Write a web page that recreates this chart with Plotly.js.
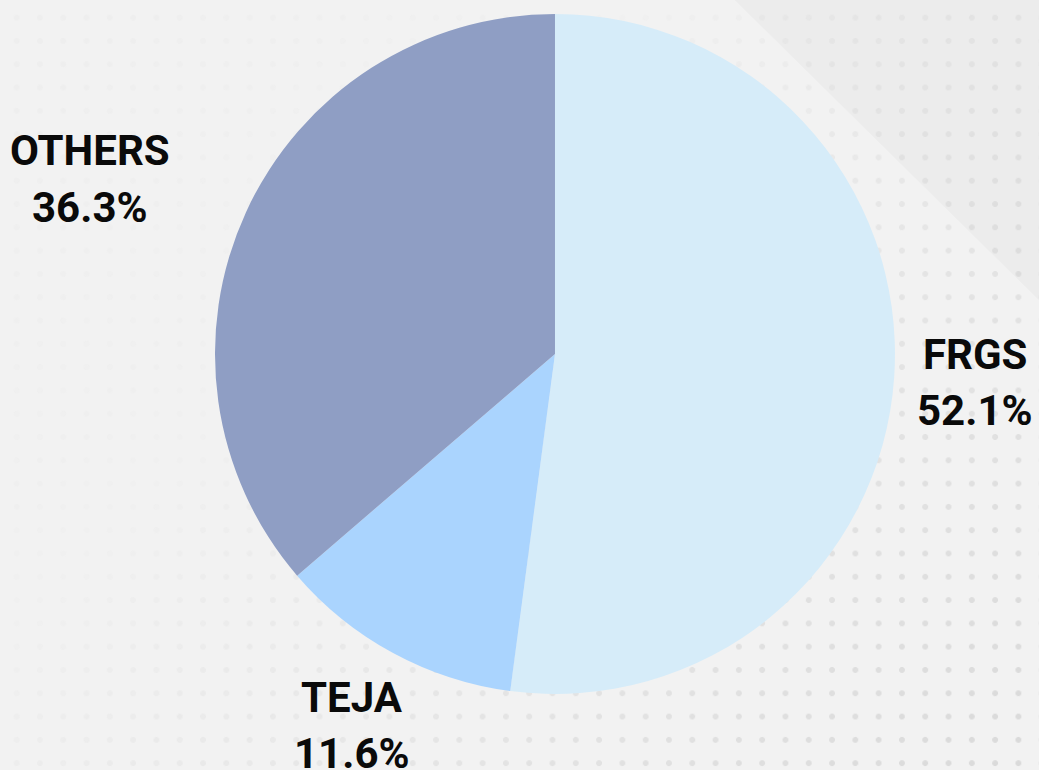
<!DOCTYPE html>
<html>
<head>
<meta charset="utf-8">
<script src="https://cdn.plot.ly/plotly-3.0.1.min.js"></script>
<style>
  html, body { margin: 0; padding: 0; background: #f2f2f2; }
  #wrap { position: relative; width: 1039px; height: 770px; overflow: hidden; background: #f2f2f2; }
  #dots { position: absolute; left: 0; top: 0; width: 1039px; height: 770px;
    background-image: radial-gradient(circle, #d9d9d9 2.6px, transparent 3.2px);
    background-size: 23.3px 23.3px; background-position: 5px 6px;
    -webkit-mask-image: linear-gradient(135deg, rgba(0,0,0,0.15) 0%, rgba(0,0,0,0.05) 35%, rgba(0,0,0,0.6) 70%, rgba(0,0,0,1) 100%);
    mask-image: linear-gradient(135deg, rgba(0,0,0,0.15) 0%, rgba(0,0,0,0.05) 35%, rgba(0,0,0,0.6) 70%, rgba(0,0,0,1) 100%); }
  #chart { position: absolute; left: 0; top: 0; width: 1039px; height: 770px; }
</style>
</head>
<body>
<div id="wrap"><div id="dots"></div><div id="chart"></div></div>
<script>
const categories = ["FRGS", "TEJA", "OTHERS"];
const shares = [52.1, 11.6, 36.3];
const sliceColors = ["#d6ecf9", "#aad4fe", "#8f9ec4"];
// label anchor positions (paper fractions) for name line and percentage line
const labelX = [0.938, 0.339, 0.087];
const nameY = [0.539, 0.094, 0.805];
const pctY = [0.467, 0.022, 0.731];

const annotations = [];
categories.forEach((c, i) => {
  annotations.push({ x: labelX[i], y: nameY[i], xref: "paper", yref: "paper", showarrow: false,
    text: "<b>" + c + "</b>", font: { family: "Roboto, Arial, sans-serif", size: 42, color: "#0a0a0a" },
    xanchor: "center", yanchor: "middle" });
  annotations.push({ x: labelX[i], y: pctY[i], xref: "paper", yref: "paper", showarrow: false,
    text: "<b>" + shares[i].toFixed(1) + "%</b>", font: { family: "Roboto, Arial, sans-serif", size: 42, color: "#0a0a0a" },
    xanchor: "center", yanchor: "middle" });
});

const data = [{
  type: "pie",
  labels: categories,
  values: shares,
  sort: false,
  direction: "clockwise",
  rotation: 0,
  marker: { colors: sliceColors, line: { width: 0 } },
  textinfo: "none",
  hoverinfo: "label+percent",
  domain: { x: [0.2069, 0.8614], y: [0.0987, 0.9818] },
  showlegend: false
}];

const layout = {
  width: 1039, height: 770,
  margin: { l: 0, r: 0, t: 0, b: 0 },
  paper_bgcolor: "rgba(0,0,0,0)",
  plot_bgcolor: "rgba(0,0,0,0)",
  showlegend: false,
  annotations: annotations,
  shapes: [
    { type: "path", xref: "paper", yref: "paper", layer: "below",
      path: "M 0.707 1 L 1 1 L 1 0.61 Z", fillcolor: "rgba(0,0,0,0.022)", line: { width: 0 } }
  ]
};

Plotly.newPlot("chart", data, layout, { displayModeBar: false, staticPlot: true });
</script>
</body>
</html>
